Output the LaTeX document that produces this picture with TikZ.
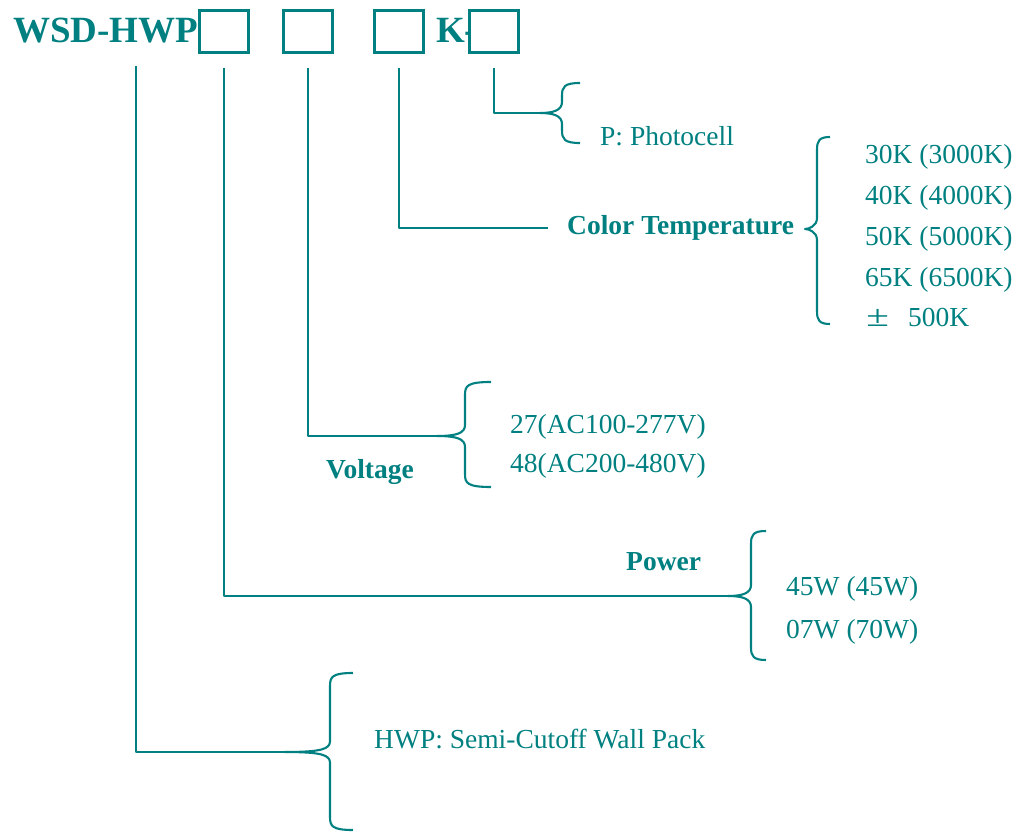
\documentclass[tikz,border=0pt]{standalone}
\usepackage{fontspec}
\setmainfont{Liberation Serif}
\definecolor{wsdteal}{RGB}{0,128,128}

\tikzset{
	link/.style={wsdteal, line width=2.1pt, line join=round},
	codebox/.style={draw=wsdteal, fill=white, line width=2.3pt, minimum width=49pt, minimum height=42pt, inner sep=0pt},
	partno/.style={font=\fontsize{37}{40}\selectfont\bfseries, text=wsdteal, inner sep=0pt, anchor=base west},
	choice/.style={font=\fontsize{27.5}{30}\selectfont, text=wsdteal, inner sep=0pt, anchor=base west},
	fieldname/.style={choice, font=\fontsize{27.5}{30}\selectfont\bfseries},
}

% tip x, tip y, spine x, top y, bottom y, end x
\newcommand{\bracketfrom}[6]{
	\draw[link] (#6,#4) .. controls (#3+2,#4) and (#3,#4+4) .. (#3,#4+13) -- (#3,#2-11)
		.. controls (#3,#2-3) and (#3-8,#2) .. (#1,#2) .. controls (#3-8,#2) and (#3,#2+3) .. (#3,#2+11)
		-- (#3,#5-13) .. controls (#3,#5-4) and (#3+2,#5) .. (#6,#5);
}

\begin{document}
\begin{tikzpicture}
	[x=1pt,y=-1pt]

\useasboundingbox (0,0) rectangle (1021,832);

	\node[partno] (title) at (13,43) {WSD-HWP};
	\node[partno] (kelvin) at (436,43) {K-};
	\node[codebox] (b1) at (224,31.5) {};
	\node[codebox] (b2) at (308,31.5) {};
	\node[codebox] (b3) at (399,31.5) {};
	\node[codebox] (b4) at (494,31.5) {};

	% photocell
	\node[choice] (photo) at (600,146) {P: Photocell};
	\bracketfrom{540}{113}{562}{83}{143}{580}
	\coordinate (phototip) at (540,113);
	\draw[link] ([yshift=-14pt]b4.south) |- (phototip);

	% colour temperature
	\node[fieldname] (cct) at (567,235) {Color Temperature};
	\node[choice] (k30) at (865,164) {30K (3000K)};
	\node[choice] (k40) at (865,205) {40K (4000K)};
	\node[choice] (k50) at (865,245) {50K (5000K)};
	\node[choice] (k65) at (865,286) {65K (6500K)};
	\node[choice] (ktol) at (865,326) {\makebox[25pt]{\scalebox{1.5}[1.1]{±}}\hspace{18pt}500K};
	\bracketfrom{805}{229}{817}{137}{324}{830}
	\draw[link, shorten >=19pt] ([yshift=-14pt]b3.south) |- (cct.west);

	% voltage
	\node[fieldname] (volt) at (326,478) {Voltage};
	\node[choice] (v27) at (510,433) {27(AC100-277V)};
	\node[choice] (v48) at (510,472) {48(AC200-480V)};
	\bracketfrom{437}{436}{465}{382}{487}{491}
	\coordinate (volttip) at (437,436);
	\draw[link] ([yshift=-14pt]b2.south) |- (volttip);

	% power
	\node[fieldname] (pwr) at (626,570) {Power};
	\node[choice] (w45) at (786,595) {45W (45W)};
	\node[choice] (w70) at (786,638) {07W (70W)};
	\bracketfrom{728}{596}{751}{531}{660}{766}
	\coordinate (pwrtip) at (728,596);
	\draw[link] ([yshift=-14pt]b1.south) |- (pwrtip);

	% housing
	\node[choice] (hwp) at (374,748) {HWP: Semi-Cutoff Wall Pack};
	\bracketfrom{285}{752}{330}{673}{830}{353}
	\coordinate (hwpdrop) at (136,66);
	\coordinate (hwptip) at (285,752);
	\draw[link] (hwpdrop) |- (hwptip);

\end{tikzpicture}
\end{document}
